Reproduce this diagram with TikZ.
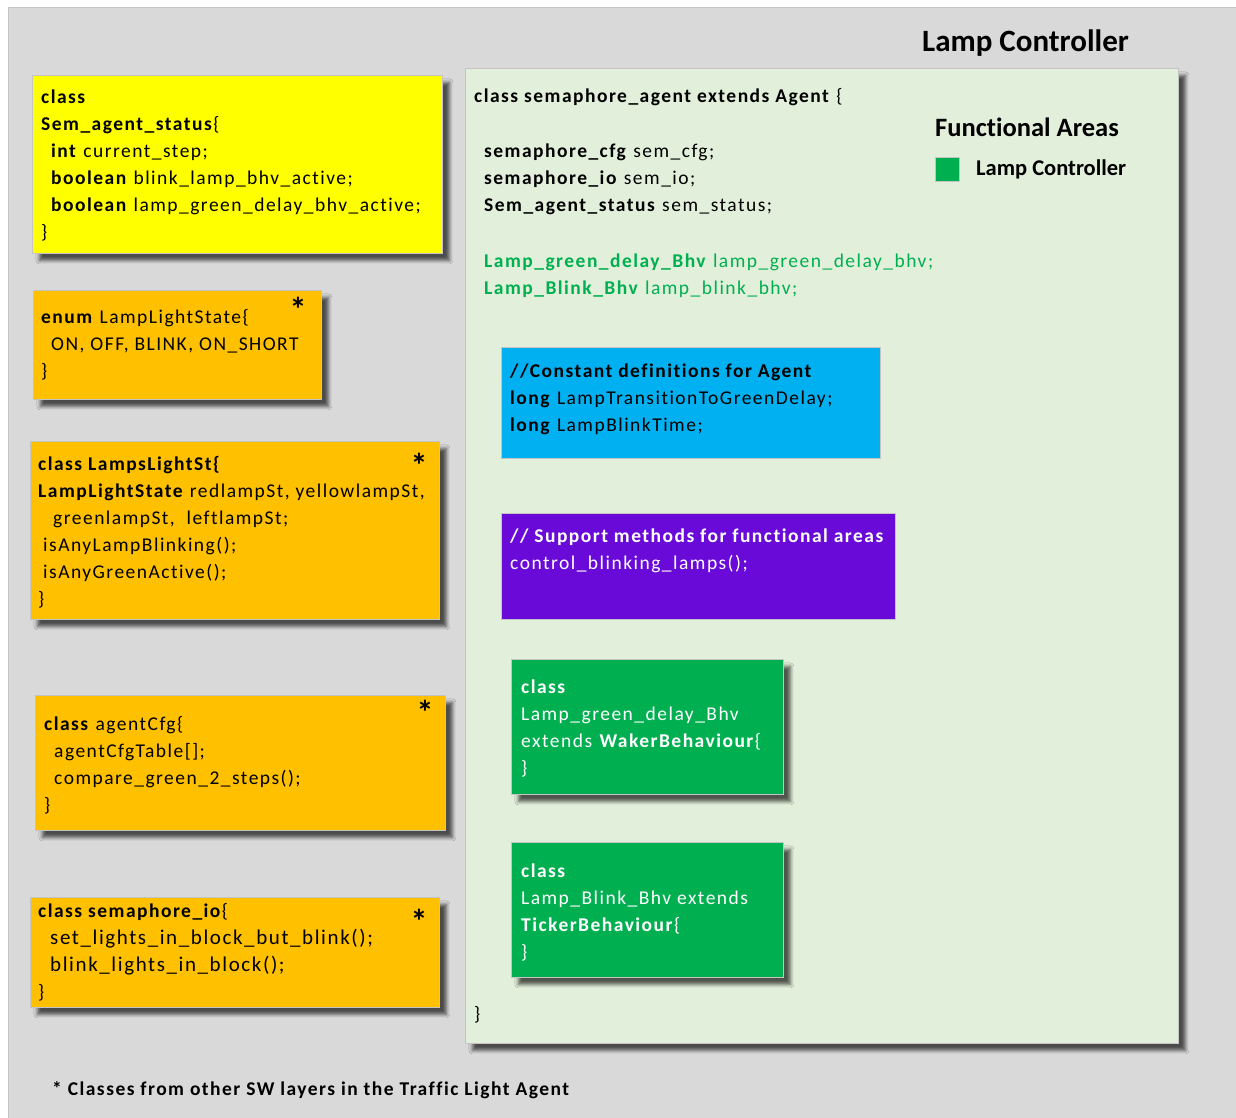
\documentclass[tikz,border=0pt]{standalone}
\usepackage{fontspec}
\setmainfont{Carlito}[LetterSpace=7.6, Ligatures=NoCommon]
\newfontfamily\headfont{Carlito}[Ligatures=NoCommon]
\usetikzlibrary{shadows.blur}

\definecolor{pagegrey}{HTML}{D9D9D9}
\definecolor{edgegrey}{HTML}{C4C4C4}
\definecolor{panelgreen}{HTML}{E2EFDA}
\definecolor{boxyellow}{HTML}{FFFF00}
\definecolor{boxorange}{HTML}{FFC000}
\definecolor{boxblue}{HTML}{00B0F0}
\definecolor{boxpurple}{HTML}{6A0AD8}
\definecolor{boxgreen}{HTML}{00B050}

\tikzset{
  classbox/.style={draw=edgegrey, line width=0.8pt, anchor=north west, inner sep=0pt,
    blur shadow={shadow xshift=7pt, shadow yshift=-7pt, shadow blur radius=3.5pt, shadow opacity=65}},
  plainbox/.style={draw=edgegrey, line width=0.8pt, anchor=north west, inner sep=0pt},
  code/.style={anchor=base west, inner sep=0pt, font=\fontsize{19.5}{27}\selectfont},
  star/.style={anchor=center, inner sep=0pt, font=\headfont\fontsize{34}{34}\selectfont\bfseries},
  heading/.style={anchor=base west, inner sep=0pt, font=\headfont\bfseries},
}
\newcommand{\ind}{\hspace*{10pt}}
\newcommand{\codelines}[1]{\parbox[t]{480pt}{\raggedright #1}}

\begin{document}
\begin{tikzpicture}[x=1pt, y=-1pt]
  \useasboundingbox (0,0) rectangle (1236,1118);
  % page background
  \fill[white] (0,0) rectangle (1236,1118);
  \node[draw=edgegrey, fill=pagegrey, line width=0.8pt, anchor=north west, inner sep=0pt,
        minimum width=1240pt, minimum height=1120pt] (page) at (8,7) {};

  \node[heading, font=\headfont\fontsize{31}{34}\selectfont\bfseries] (title) at (922,52) {Lamp Controller};

  % classes from other layers
  \node[classbox, fill=boxyellow, minimum width=410pt, minimum height=178pt] (status) at (32,75) {};
  \node[code] (status-txt) at (41,104) {\codelines{%
    \textbf{class}\\
    \textbf{Sem\_agent\_status}\{\\
    \ind\textbf{int} current\_step;\\
    \ind\textbf{boolean} blink\_lamp\_bhv\_active;\\
    \ind\textbf{boolean} lamp\_green\_delay\_bhv\_active;\\
    \}}};

  \node[classbox, fill=boxorange, minimum width=288pt, minimum height=109pt] (lls) at (33,290) {};
  \node[code] (lls-txt) at (41,323) {\codelines{%
    \textbf{enum} LampLightState\{\\
    \ind ON, OFF, BLINK, ON\_SHORT\\
    \}}};
  \node[star] (lls-star) at (298,309) {*};

  \node[classbox, fill=boxorange, minimum width=409pt, minimum height=178pt] (lamps) at (30,441) {};
  \node[code] (lamps-txt) at (38,470) {\codelines{%
    \textbf{class LampsLightSt\{}\\
    \textbf{LampLightState} redlampSt, yellowlampSt,\\
    \hspace*{15pt}greenlampSt,\ \ leftlampSt;\\
    \hspace*{5pt}isAnyLampBlinking();\\
    \hspace*{5pt}isAnyGreenActive();\\
    \}}};
  \node[star] (lamps-star) at (419,465) {*};

  \node[classbox, fill=boxorange, minimum width=410pt, minimum height=135pt] (cfg) at (35,695) {};
  \node[code] (cfg-txt) at (44,730) {\codelines{%
    \textbf{class} agentCfg\{\\
    \ind agentCfgTable[];\\
    \ind compare\_green\_2\_steps();\\
    \}}};
  \node[star] (cfg-star) at (425,712) {*};

  \node[classbox, fill=boxorange, minimum width=409pt, minimum height=110pt] (io) at (30,897) {};
  \node[code] (io-txt) at (38,917) {\codelines{%
    \textbf{class semaphore\_io}\{\\
    {\fontsize{21}{27}\selectfont
    \hspace*{12pt}set\_lights\_in\_block\_but\_blink();\\
    \hspace*{12pt}blink\_lights\_in\_block();\\}
    \}}};
  \node[star] (io-star) at (419,921) {*};

  \node[code, font=\fontsize{19.5}{27}\selectfont\bfseries] (note) at (52,1095)
    {* Classes from other SW layers in the Traffic Light Agent};

  % the agent class
  \node[classbox, fill=panelgreen, minimum width=713pt, minimum height=975pt] (agent) at (465,68) {};
  \node[code] (agent-head) at (474,103) {\textbf{class semaphore\_agent extends Agent} \{};
  \node[code] (agent-fields) at (484,158) {\codelines{%
    \textbf{semaphore\_cfg} sem\_cfg;\\
    \textbf{semaphore\_io} sem\_io;\\
    \textbf{Sem\_agent\_status} sem\_status;}};
  \node[code, text=boxgreen] (agent-bhv) at (484,267) {\codelines{%
    \textbf{Lamp\_green\_delay\_Bhv} lamp\_green\_delay\_bhv;\\
    \textbf{Lamp\_Blink\_Bhv} lamp\_blink\_bhv;}};
  \node[code] (agent-end) at (474,1020) {\}};

  % legend
  \node[heading, font=\headfont\fontsize{26.5}{30}\selectfont\bfseries] (legend-title) at (935,137) {Functional Areas};
  \node[plainbox, fill=boxgreen, minimum width=24pt, minimum height=24pt] (legend-key) at (935,157) {};
  \node[heading, font=\headfont\fontsize{22.5}{26}\selectfont\bfseries] (legend-label) at (976,176) {Lamp Controller};

  % inner boxes
  \node[plainbox, fill=boxblue, minimum width=379pt, minimum height=111pt] (consts) at (501,347) {};
  \node[code] (consts-txt) at (510,377) {\codelines{%
    \textbf{//Constant definitions for Agent}\\
    \textbf{long} LampTransitionToGreenDelay;\\
    \textbf{long} LampBlinkTime;}};

  \node[plainbox, fill=boxpurple, minimum width=394pt, minimum height=106pt] (support) at (501,513) {};
  \node[code, text=white] (support-txt) at (510,542) {\codelines{%
    \textbf{// Support methods for functional areas}\\
    control\_blinking\_lamps();}};

  \node[classbox, fill=boxgreen, minimum width=272pt, minimum height=135pt] (delay) at (511,659) {};
  \node[code, text=white] (delay-txt) at (521,693) {\codelines{%
    \textbf{class}\\
    Lamp\_green\_delay\_Bhv\\
    extends \textbf{WakerBehaviour}\{\\
    \}}};

  \node[classbox, fill=boxgreen, minimum width=272pt, minimum height=135pt] (blink) at (511,842) {};
  \node[code, text=white] (blink-txt) at (521,877) {\codelines{%
    \textbf{class}\\
    Lamp\_Blink\_Bhv extends\\
    \textbf{TickerBehaviour}\{\\
    \}}};
\end{tikzpicture}
\end{document}
